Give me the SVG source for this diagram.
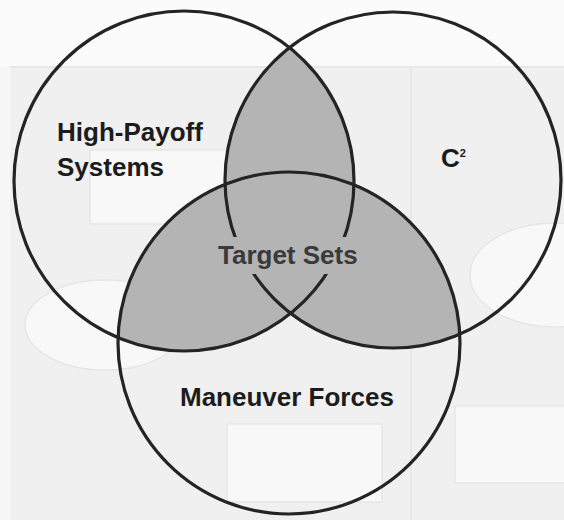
<svg xmlns="http://www.w3.org/2000/svg" width="564" height="520" viewBox="0 0 564 520">
<defs>
<style>
.ring{fill:none;stroke:#242424;stroke-width:3.2}
.lbl{font-family:"Liberation Sans",Arial,sans-serif;font-weight:bold;font-size:26px;fill:#1c1c1c}
.lbl2{fill:#3a3a3a}
.faint{fill:#f8f8f8;stroke:#e6e6e6;stroke-width:1.5}
</style>
<clipPath id="cA"><circle cx="184" cy="181" r="170"/></clipPath>
<clipPath id="cB"><circle cx="393" cy="180" r="168"/></clipPath>
</defs>
<g id="background">
<rect x="0" y="0" width="564" height="520" fill="#f0f0f0"/>
<rect x="0" y="0" width="564" height="66" fill="#fbfbfb"/>
<rect x="0" y="66" width="10" height="454" fill="#f7f7f7"/>
<line x1="10" y1="67" x2="564" y2="67" stroke="#e4e4e4" stroke-width="1.5"/>
<line x1="411" y1="68" x2="411" y2="520" stroke="#e6e6e6" stroke-width="1.5"/>
<rect class="faint" x="90" y="150" width="140" height="74"/>
<ellipse class="faint" cx="105" cy="325" rx="80" ry="45"/>
<ellipse class="faint" cx="555" cy="275" rx="85" ry="52"/>
<rect class="faint" x="227" y="424" width="155" height="78"/>
<rect class="faint" x="455" y="406" width="115" height="77"/>
</g>
<g id="overlaps" fill="#b4b4b4">
<circle cx="393" cy="180" r="168" clip-path="url(#cA)"/>
<circle cx="289" cy="343" r="171" clip-path="url(#cA)"/>
<circle cx="289" cy="343" r="171" clip-path="url(#cB)"/>
</g>
<g id="high-payoff">
<circle class="ring" cx="184" cy="181" r="170"/>
<text class="lbl" x="57" y="141">High-Payoff</text>
<text class="lbl" x="57" y="176">Systems</text>
</g>
<g id="c2">
<circle class="ring" cx="393" cy="180" r="168"/>
<text class="lbl" x="441" y="167" font-size="24">C<tspan font-size="11" dy="-10">2</tspan></text>
</g>
<g id="maneuver-forces">
<circle class="ring" cx="289" cy="343" r="171"/>
<text class="lbl" x="180" y="406">Maneuver Forces</text>
</g>
<g id="target-sets">
<rect x="212" y="237" width="152" height="37" fill="#b4b4b4"/>
<text class="lbl lbl2" x="218" y="264" font-size="25.5">Target Sets</text>
</g>
<g id="connectors"></g>
</svg>
